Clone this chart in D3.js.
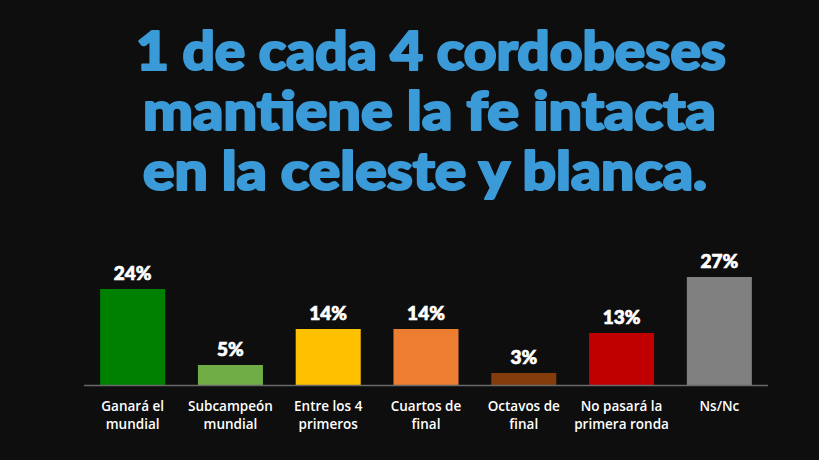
<!DOCTYPE html>
<html>
<head>
<meta charset="utf-8">
<script src="https://cdn.jsdelivr.net/npm/d3@7"></script>
<style>
  body { margin: 0; background: #0e0e0e; }
</style>
</head>
<body>
<div id="chart"></div>
<script>
const categories = ['Ganará el\nmundial', 'Subcampeón\nmundial', 'Entre los 4\nprimeros', 'Cuartos de\nfinal', 'Octavos de\nfinal', 'No pasará la\nprimera ronda', 'Ns/Nc']
const values = [24, 5, 14, 14, 3, 13, 27]
const colors = ['#008000', '#70ad47', '#ffc000', '#ed7d31', '#843c0c', '#c00000', '#808080']
const titleLines = ['1 de cada 4 cordobeses', 'mantiene la fe intacta', 'en la celeste y blanca.']

const width = 819
const height = 460
const margin = { left: 84, right: 51, bottom: 75 }

const svg = d3.select('#chart')
  .append('svg')
  .attr('width', width)
  .attr('height', height)

svg.append('rect').attr('width', width).attr('height', height).attr('fill', '#0e0e0e')

// title
const titleX = [136, 143, 143]
const titleW = [590, 573, 564]
svg.selectAll('.title')
  .data(titleLines)
  .enter()
  .append('text')
  .attr('class', 'title')
  .attr('x', (d, i) => titleX[i])
  .attr('y', (d, i) => 70 + i * 60)
  .attr('textLength', (d, i) => titleW[i])
  .attr('lengthAdjust', 'spacingAndGlyphs')
  .attr('font-family', 'Lato')
  .attr('font-weight', 900)
  .attr('font-size', '53px')
  .attr('fill', '#3b9bd8')
  .attr('stroke', '#3b9bd8')
  .attr('stroke-width', 2.2)
  .attr('stroke-linejoin', 'round')
  .text(d => d)

const baseY = height - margin.bottom

const x = d3.scaleBand()
  .domain(categories)
  .range([margin.left, width - margin.right])
  .paddingInner(0.335)
  .paddingOuter(0.165)

const y = d3.scaleLinear()
  .domain([0, 27])
  .range([baseY, 277])

svg.selectAll('.bar')
  .data(values)
  .enter()
  .append('rect')
  .attr('class', 'bar')
  .attr('x', (d, i) => x(categories[i]))
  .attr('y', d => y(d))
  .attr('width', x.bandwidth())
  .attr('height', d => baseY - y(d))
  .attr('fill', (d, i) => colors[i])

svg.append('line')
  .attr('x1', margin.left)
  .attr('x2', width - margin.right)
  .attr('y1', baseY + 0.5)
  .attr('y2', baseY + 0.5)
  .attr('stroke', '#6a6a6a')
  .attr('stroke-width', 1.5)

// value labels
svg.selectAll('.val')
  .data(values)
  .enter()
  .append('text')
  .attr('class', 'val')
  .attr('x', (d, i) => x(categories[i]) + x.bandwidth() / 2)
  .attr('y', d => y(d) - 9)
  .attr('text-anchor', 'middle')
  .attr('font-family', 'Lato')
  .attr('font-weight', 900)
  .attr('font-size', '19px')
  .attr('fill', '#ffffff')
  .attr('stroke', '#ffffff')
  .attr('stroke-width', 0.7)
  .text(d => d + '%')

// category labels
const cat = svg.selectAll('.cat')
  .data(categories)
  .enter()
  .append('text')
  .attr('class', 'cat')
  .attr('text-anchor', 'middle')
  .attr('font-family', 'Open Sans')
  .attr('font-weight', 600)
  .attr('font-size', '13.5px')
  .attr('fill', '#ffffff')

cat.selectAll('tspan')
  .data(d => d.split('\n').map(s => ({ s: s, x: x(d) + x.bandwidth() / 2 })))
  .enter()
  .append('tspan')
  .attr('x', d => d.x)
  .attr('y', (d, i) => baseY + 26 + i * 18)
  .text(d => d.s)
</script>
</body>
</html>
